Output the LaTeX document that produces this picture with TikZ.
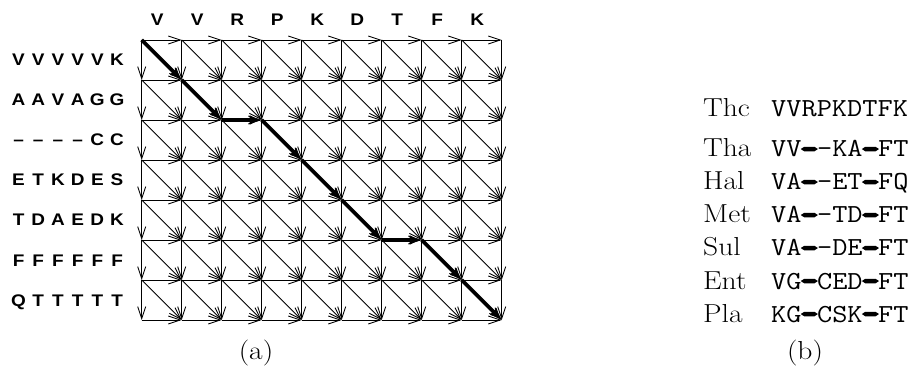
\documentclass[tikz,border=0pt]{standalone}
\usepackage{fontspec}
\usetikzlibrary{arrows.meta}
\newfontfamily\labfont{Liberation Sans}
\newfontfamily\ttfat{lmmono10-regular.otf}[FakeBold=10]
\newcommand\wx[1]{\scalebox{1.135}[1]{#1}}
\newcommand\seqch[1]{\makebox[19.7pt]{\scalebox{1.13}[1]{#1}}}
\newcommand\fatdash{{\ttfat -}}
\begin{document}
\begin{tikzpicture}[x=1pt,y=-1pt,
  thinarr/.style={line width=0.9pt,-{Straight Barb[length=12pt,width=8pt,line width=0.9pt]}},
  patharr/.style={line width=3.8pt,-{Latex[length=12pt,width=10pt]}},
  collab/.style={font=\labfont\bfseries\fontsize{16.8}{18}\selectfont, inner sep=0pt},
  namelab/.style={font=\fontsize{26}{30}\selectfont, inner sep=0pt, anchor=base west},
  seqlab/.style={font=\ttfamily\fontsize{26}{30}\selectfont, inner sep=0pt, anchor=base west},
  caplab/.style={font=\fontsize{26}{30}\selectfont, inner sep=0pt, anchor=base}]
\useasboundingbox (0,0) rectangle (924,374);
% grid points
\foreach \i in {0,...,9}{\foreach \j in {0,...,7}{
  \coordinate (n-\i-\j) at ({141.7+40*\i},{40+40*\j});}}
% horizontal edges
\foreach \i in {1,...,9}{\foreach \j in {0,...,7}{
  \pgfmathtruncatemacro\ip{\i-1}
  \draw[thinarr] (n-\ip-\j) -- (n-\i-\j);}}
% vertical edges
\foreach \i in {0,...,9}{\foreach \j in {1,...,7}{
  \pgfmathtruncatemacro\jp{\j-1}
  \draw[thinarr] (n-\i-\jp) -- (n-\i-\j);}}
% diagonal edges
\foreach \i in {1,...,9}{\foreach \j in {1,...,7}{
  \pgfmathtruncatemacro\ip{\i-1}
  \pgfmathtruncatemacro\jp{\j-1}
  \draw[thinarr] (n-\ip-\jp) -- (n-\i-\j);}}
% optimal path
\draw[patharr] (n-0-0) -- (n-1-1);
\draw[patharr] (n-1-1) -- (n-2-2);
\draw[patharr] (n-2-2) -- (n-3-2);
\draw[patharr] (n-3-2) -- (n-4-3);
\draw[patharr] (n-4-3) -- (n-5-4);
\draw[patharr] (n-5-4) -- (n-6-5);
\draw[patharr] (n-6-5) -- (n-7-5);
\draw[patharr] (n-7-5) -- (n-8-6);
\draw[patharr] (n-8-6) -- (n-9-7);
% column labels
\foreach \l [count=\k from 0] in {V,V,R,P,K,D,T,F,K}
  \node[collab, anchor=base] (col-\k) at ({157.3+40*\k},26) {\wx{\l}};
% row labels
\node[collab, anchor=base west] (row-1) at (8.5,66) {\seqch{V}\seqch{V}\seqch{V}\seqch{V}\seqch{V}\seqch{K}};
\node[collab, anchor=base west] (row-2) at (8.5,106) {\seqch{A}\seqch{A}\seqch{V}\seqch{A}\seqch{G}\seqch{G}};
\node[collab, anchor=base west] (row-3) at (8.5,146) {\seqch{–}\seqch{–}\seqch{–}\seqch{–}\seqch{C}\seqch{C}};
\node[collab, anchor=base west] (row-4) at (8.5,186) {\seqch{E}\seqch{T}\seqch{K}\seqch{D}\seqch{E}\seqch{S}};
\node[collab, anchor=base west] (row-5) at (8.5,226) {\seqch{T}\seqch{D}\seqch{A}\seqch{E}\seqch{D}\seqch{K}};
\node[collab, anchor=base west] (row-6) at (8.5,266) {\seqch{F}\seqch{F}\seqch{F}\seqch{F}\seqch{F}\seqch{F}};
\node[collab, anchor=base west] (row-7) at (8.5,306) {\seqch{Q}\seqch{T}\seqch{T}\seqch{T}\seqch{T}\seqch{T}};
% alignment (b)
\node[namelab] (nm-1) at (703,117) {\wx{Thc}};
\node[seqlab]  (sq-1) at (771,117) {\wx{VVRPKDTFK}};
\node[namelab] (nm-2) at (703,157) {\wx{Tha}};
\node[seqlab]  (sq-2) at (771,157) {\wx{VV\fatdash-KA\fatdash FT}};
\node[namelab] (nm-3) at (703,190) {\wx{Hal}};
\node[seqlab]  (sq-3) at (771,190) {\wx{VA\fatdash-ET\fatdash FQ}};
\node[namelab] (nm-4) at (703,223) {\wx{Met}};
\node[seqlab]  (sq-4) at (771,223) {\wx{VA\fatdash-TD\fatdash FT}};
\node[namelab] (nm-5) at (703,256) {\wx{Sul}};
\node[seqlab]  (sq-5) at (771,256) {\wx{VA\fatdash-DE\fatdash FT}};
\node[namelab] (nm-6) at (703,289) {\wx{Ent}};
\node[seqlab]  (sq-6) at (771,289) {\wx{VG\fatdash CED\fatdash FT}};
\node[namelab] (nm-7) at (703,322) {\wx{Pla}};
\node[seqlab]  (sq-7) at (771,322) {\wx{KG\fatdash CSK\fatdash FT}};
% captions
\node[caplab] (cap-a) at (256,359.5) {\wx{(a)}};
\node[caplab] (cap-b) at (805,359.5) {\wx{(b)}};
\end{tikzpicture}
\end{document}
